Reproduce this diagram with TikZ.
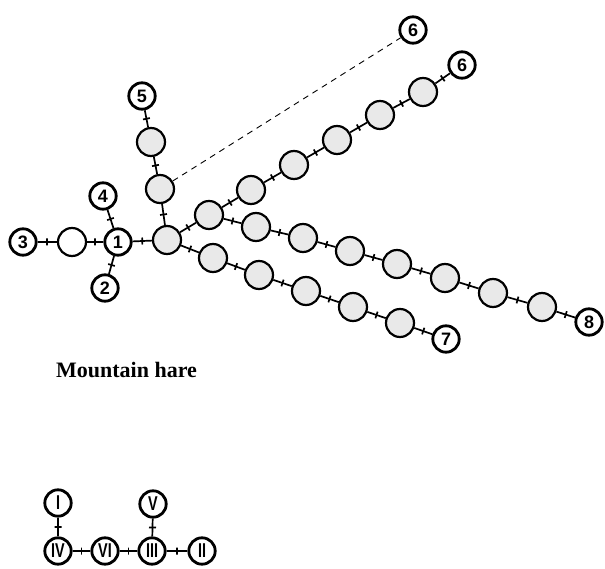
\documentclass[tikz,border=0pt]{standalone}
\usepackage{fontspec}
\setmainfont{Liberation Serif}
\newfontfamily\lblfont{Liberation Sans}
\newfontfamily\romfont[FakeStretch=0.72]{Liberation Sans}
\begin{document}
\begin{tikzpicture}[x=1pt,y=-1pt,
 lab/.style={circle, draw, line width=2.8pt, fill=white, minimum size=26.4pt, inner sep=0pt, font=\lblfont\bfseries\fontsize{18}{18}\selectfont},
 rom/.style={lab, font=\romfont\bfseries\fontsize{20}{20}\selectfont},
 grey/.style={circle, draw, line width=2.2pt, fill=gray!17, minimum size=28pt, inner sep=0pt},
 plain/.style={grey, fill=white},
 edge/.style={line width=1.7pt},
 tk/.style={sloped, draw, line width=1.7pt, inner sep=0pt, minimum width=0pt, minimum height=7pt, shape=rectangle},
 dashline/.style={line width=0.9pt, dash pattern=on 6pt off 5pt}]
\useasboundingbox (0,0) rectangle (605,569);
% top graph nodes
\node[lab] (n3) at (23,242) {3};
\node[plain] (e0) at (72,242) {};
\node[lab] (n1) at (118,242) {1};
\node[lab] (n4) at (103,196) {4};
\node[lab] (n2) at (105,288) {2};
\node[lab] (n5) at (142,96) {5};
\node[grey] (g1) at (151,142) {};
\node[grey] (gd) at (160,189) {};
\node[grey] (h) at (167,240) {};
\node[grey] (u1) at (209,215) {};
\node[grey] (u2) at (251,190) {};
\node[grey] (u3) at (294,165) {};
\node[grey] (u4) at (337,140) {};
\node[grey] (u5) at (380,115) {};
\node[grey] (u6) at (423,92) {};
\node[lab] (n6b) at (462,65) {6};
\node[lab] (n6a) at (413,30) {6};
\node[grey] (m1) at (256,227) {};
\node[grey] (m2) at (303,238) {};
\node[grey] (m3) at (350,251) {};
\node[grey] (m4) at (397,264) {};
\node[grey] (m5) at (445,278) {};
\node[grey] (m6) at (493,293) {};
\node[grey] (m7) at (542,307) {};
\node[lab] (n8) at (589,322) {8};
\node[grey] (l1) at (213,258) {};
\node[grey] (l2) at (259,275) {};
\node[grey] (l3) at (306,291) {};
\node[grey] (l4) at (353,307) {};
\node[grey] (l5) at (400,323) {};
\node[lab] (n7) at (446,339) {7};
% edges
\foreach \a/\b in {n3/e0, e0/n1, n4/n1, n2/n1, n1/h, n5/g1, g1/gd, gd/h,
  h/u1, u1/u2, u2/u3, u3/u4, u4/u5, u5/u6, u6/n6b,
  u1/m1, m1/m2, m2/m3, m3/m4, m4/m5, m5/m6, m6/m7, m7/n8,
  h/l1, l1/l2, l2/l3, l3/l4, l4/l5, l5/n7}
  \draw[edge] (\a) -- node[tk]{} (\b);
\draw[dashline] (gd) -- (n6a);
% label
\node[anchor=base, font=\bfseries\fontsize{22}{22}\selectfont] (title) at (126.5,377) {Mountain hare};
% bottom graph
\node[rom] (r1) at (58,503) {I};
\node[rom] (r5) at (153,504) {V};
\node[rom] (r4) at (58,551) {IV};
\node[rom] (r6) at (105,551) {VI};
\node[rom] (r3) at (152,551) {III};
\node[rom] (r2) at (202,551) {II};
\foreach \a/\b in {r1/r4, r5/r3, r4/r6, r6/r3, r3/r2}
  \draw[edge] (\a) -- node[tk]{} (\b);
\end{tikzpicture}
\end{document}
